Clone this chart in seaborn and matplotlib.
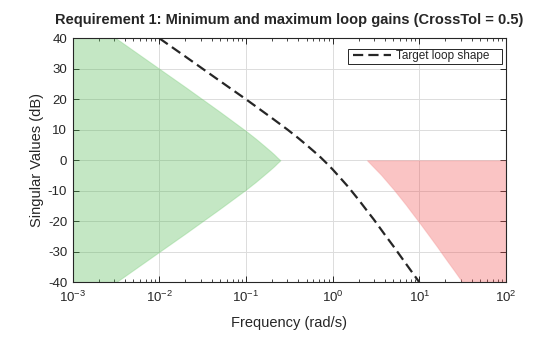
import numpy as np
import pandas as pd
import matplotlib
matplotlib.use("Agg")
import matplotlib.pyplot as plt
import seaborn as sns
from matplotlib.patches import Rectangle
from matplotlib.ticker import LogLocator, NullFormatter

# Target loop shape (rad/s, dB)
target_freq = [0.01, 0.02, 0.05, 0.1, 0.2, 0.3, 0.4, 0.5, 0.7, 0.85, 1.0, 1.2, 1.5,
               2.0, 2.5, 3.0, 4.0, 5.0, 7.0, 10.0]
target_db = [40.0, 34.0, 26.0, 20.0, 13.8, 10.1, 7.3, 5.0, 1.4, -0.95, -3.0, -5.5, -8.6,
             -13.0, -16.6, -19.5, -24.4, -28.1, -33.9, -40.0]

# Minimum-gain region boundary (upper edge; lower edge is its mirror)
min_freq = [0.001, 0.00316, 0.01, 0.02, 0.05, 0.1, 0.13, 0.16, 0.19, 0.21, 0.23, 0.249]
min_db = [50.0, 40.0, 30.0, 24.0, 15.9, 9.6, 7.05, 4.9, 3.1, 2.0, 0.9, 0.0]

# Maximum-gain region boundary (lower edge; upper edge is 0 dB)
max_freq = [2.49, 2.8, 3.2, 3.6, 4.0, 4.5, 5.0, 6.0, 7.0, 8.0, 10.0, 13.0, 16.0,
            20.0, 25.0, 32.0, 100.0]
max_db = [0.0, -1.5, -3.2, -4.7, -6.2, -7.9, -9.4, -12.2, -14.6, -16.8, -20.4, -24.8,
          -28.3, -32.2, -36.0, -40.3, -60.0]

x_ticks = [1e-3, 1e-2, 1e-1, 1e0, 1e1, 1e2]
y_ticks = [-40, -30, -20, -10, 0, 10, 20, 30, 40]

sns.set_theme(style="ticks")
plt.rcParams["font.family"] = ["Liberation Sans", "DejaVu Sans"]
plt.rcParams["mathtext.fontset"] = "custom"
plt.rcParams["mathtext.rm"] = "Liberation Sans"
plt.rcParams["mathtext.it"] = "Liberation Sans:italic"
plt.rcParams["axes.unicode_minus"] = False

W, H = 560, 337
fig = plt.figure(figsize=(W / 100, H / 100), dpi=100)
ax = fig.add_axes([72.7 / W, 1 - 282.3 / H, (506 - 72.7) / W, (282.3 - 38.3) / H])

mf = np.array(min_freq)
md = np.array(min_db)
ax.fill_between(mf, -md, md, color=(0.3, 0.72, 0.3), alpha=0.33, linewidth=0.8,
                edgecolor=(0.45, 0.8, 0.45), zorder=2)

xf = np.array(max_freq)
xd = np.array(max_db)
ax.fill_between(xf, xd, np.zeros_like(xd), color=(0.95, 0.3, 0.3), alpha=0.33,
                linewidth=0.8, edgecolor=(0.95, 0.55, 0.55), zorder=2)

df = pd.DataFrame({"freq": target_freq, "db": target_db})
sns.lineplot(data=df, x="freq", y="db", ax=ax, color="#262626", linewidth=1.6,
             dashes=False, label="Target loop shape", zorder=3)
ln = ax.get_lines()[-1]
ln.set_dashes((4.6, 2.3))

ax.set_xscale("log")
ax.set_xlim(1e-3, 1e2)
ax.set_ylim(-40, 40)
ax.set_xticks(x_ticks)
ax.set_yticks(y_ticks)
ax.xaxis.set_minor_locator(LogLocator(base=10, subs=np.arange(2, 10), numticks=20))
ax.xaxis.set_minor_formatter(NullFormatter())

ax.grid(True, which="major", color="#dcdcdc", linewidth=0.7, zorder=0)
ax.set_axisbelow(True)
ax.tick_params(which="both", direction="in", top=True, right=True,
               colors="#262626", labelsize=9.5)
ax.tick_params(which="major", length=4, width=0.7, pad=4)
ax.tick_params(axis="x", which="major", pad=5.5)
ax.tick_params(which="minor", length=2.2, width=0.6)
for s in ax.spines.values():
    s.set_color("#262626")
    s.set_linewidth(0.8)

ax.set_xlabel("Frequency (rad/s)", fontsize=10.5, color="#262626", labelpad=8)
ax.set_ylabel("Singular Values (dB)", fontsize=10.5, color="#262626", labelpad=3)
ax.set_title("Requirement 1: Minimum and maximum loop gains (CrossTol = 0.5)",
             fontsize=10.5, fontweight="bold", color="#262626", pad=10)

# legend entries without frame, boxed by a separate rectangle behind them
fs = 8.5
fs_px = fs * 100 / 72
leg = ax.legend(loc="center left", bbox_to_anchor=(353 / W, 1 - 56.5 / H),
                bbox_transform=fig.transFigure, borderaxespad=0, borderpad=0,
                fontsize=fs, frameon=False, handlelength=38 / fs_px,
                handletextpad=5 / fs_px)
for h in leg.get_lines():
    h.set_dashes((4.6, 2.3))
leg.set_zorder(6)
ax.add_patch(Rectangle((348 / W, 1 - 64 / H), (502 - 348) / W, 15 / H,
                       transform=fig.transFigure, facecolor="white",
                       edgecolor="#262626", linewidth=0.7, zorder=5,
                       clip_on=False))

fig.savefig("out.png", dpi=100)
